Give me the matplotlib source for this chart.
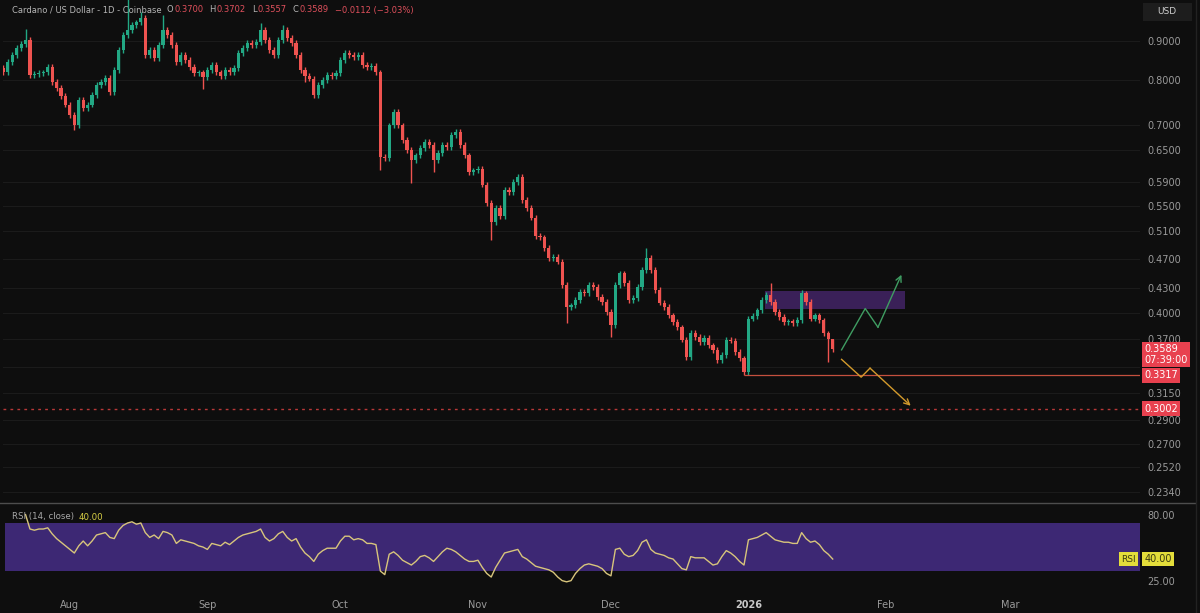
import pandas as pd
import numpy as np
import matplotlib
matplotlib.use('Agg')
import matplotlib.pyplot as plt
import matplotlib.dates as mdates
import matplotlib.patches as patches
from matplotlib.transforms import IdentityTransform

# ---- data (ADA/USD daily, Coinbase) ----
start = '2025-07-17'
first_open = 0.830
closes = [
    0.820, 0.845, 0.863, 0.881, 0.892, 0.903, 0.813, 0.816, 0.818, 0.820,
    0.833, 0.796, 0.782, 0.764, 0.744, 0.722, 0.700, 0.755, 0.737, 0.744,
    0.766, 0.789, 0.796, 0.806, 0.773, 0.825, 0.876, 0.916, 0.930, 0.944,
    0.952, 0.964, 0.863, 0.876, 0.855, 0.889, 0.930, 0.916, 0.889, 0.845,
    0.863, 0.850, 0.833, 0.818, 0.820, 0.808, 0.825, 0.838, 0.820, 0.811,
    0.825, 0.820, 0.830, 0.868, 0.881, 0.895, 0.889, 0.897, 0.930, 0.903,
    0.876, 0.863, 0.903, 0.930, 0.908, 0.895, 0.863, 0.825, 0.811, 0.804,
    0.766, 0.789, 0.801, 0.813, 0.811, 0.818, 0.850, 0.868, 0.863, 0.858,
    0.863, 0.838, 0.833, 0.835, 0.820, 0.637, 0.635, 0.700, 0.728, 0.700,
    0.670, 0.650, 0.631, 0.640, 0.654, 0.666, 0.660, 0.631, 0.644, 0.660,
    0.656, 0.680, 0.686, 0.660, 0.640, 0.609, 0.612, 0.614, 0.586, 0.555,
    0.524, 0.547, 0.534, 0.577, 0.573, 0.591, 0.600, 0.560, 0.547, 0.531,
    0.503, 0.501, 0.485, 0.471, 0.473, 0.466, 0.4345, 0.4069, 0.409, 0.4155,
    0.4255, 0.424, 0.4345, 0.432, 0.419, 0.413, 0.401, 0.3855, 0.4345, 0.450,
    0.437, 0.4155, 0.418, 0.432, 0.4544, 0.471, 0.4544, 0.428, 0.412, 0.407,
    0.397, 0.389, 0.383, 0.369, 0.350, 0.3765, 0.372, 0.3665, 0.371, 0.363,
    0.358, 0.347, 0.3525, 0.369, 0.368, 0.3557, 0.349, 0.335, 0.393, 0.396,
    0.403, 0.4155, 0.422, 0.413, 0.401, 0.395, 0.389, 0.390, 0.388, 0.3914,
    0.424, 0.413, 0.393, 0.397, 0.391, 0.376, 0.370, 0.3589,
]
# candles with a visibly long wick (index -> price)
high_wicks = {5: 0.933, 28: 1.025, 31: 0.980, 36: 0.972, 58: 0.950, 63: 0.944,
              102: 0.692, 116: 0.606, 145: 0.485, 173: 0.437, 180: 0.428, 187: 0.3702}
low_wicks = {16: 0.690, 45: 0.780, 68: 0.797, 85: 0.612, 92: 0.589, 97: 0.608,
             110: 0.497, 127: 0.388, 137: 0.372, 154: 0.347, 167: 0.3317,
             186: 0.345, 187: 0.3557}

rsi_first = 5  # RSI line starts on the 6th candle
rsi = [
    77, 65, 64, 65, 65, 66, 61, 57, 54, 51,
    48, 45, 51, 55, 51, 55, 60, 61, 62, 58,
    57, 64, 68, 70, 71, 69, 70, 62, 58, 60,
    57, 63, 62, 60, 53, 56, 55, 54, 53, 51,
    50, 48, 53, 52, 51, 54, 52, 55, 58, 60,
    61, 62, 63, 65, 58, 55, 57, 61, 63, 58,
    55, 57, 50, 45, 42, 38, 44, 47, 49, 49,
    49, 55, 59, 59, 56, 57, 56, 53, 53, 52,
    30, 27, 44, 46, 43, 39, 37, 35, 38, 42,
    43, 41, 38, 42, 46, 49, 48, 46, 43, 40,
    38, 38, 39, 33, 28, 25, 33, 39, 45, 46,
    47, 48, 42, 40, 37, 34, 33, 32, 31, 29,
    25, 22, 21, 22, 28, 32, 35, 36, 35, 34,
    32, 28, 26, 48, 49, 44, 42, 43, 47, 54,
    56, 48, 45, 44, 43, 41, 40, 36, 32, 31,
    42, 41, 41, 41, 38, 35, 36, 42, 47, 45,
    42, 38, 35, 56, 57, 58, 60, 62, 59, 56,
    55, 54, 54, 53, 53, 62, 57, 54, 55, 52,
    47, 44, 40,
]
rsi_band = (30, 70)
rsi_ticks = [80, 25]

price_ticks = [0.9, 0.8, 0.7, 0.65, 0.59, 0.55, 0.51, 0.47, 0.43, 0.40, 0.37,
               0.315, 0.29, 0.27, 0.252, 0.234]
hidden_grid = [0.34]  # gridline whose label sits under the price tags
support = 0.3317
support_from = '2025-12-31'
target = 0.3002
zone_lo, zone_hi = 0.404, 0.427
zone_dates = ['2026-01-04 20:00', '2026-02-05 06:00']
bull_dates = ['2026-01-22 00:00', '2026-01-27 08:00', '2026-01-30 05:00', '2026-02-04 12:00']
bull_prices = [0.358, 0.405, 0.383, 0.448]
bear_dates = ['2026-01-22 00:00', '2026-01-26 10:00', '2026-01-28 10:00', '2026-02-06 14:00']
bear_prices = [0.348, 0.330, 0.339, 0.303]

month_ticks = ['2025-08-01', '2025-09-01', '2025-10-01', '2025-11-01',
               '2025-12-01', '2026-01-01', '2026-02-01', '2026-03-01']
month_labels = ['Aug', 'Sep', 'Oct', 'Nov', 'Dec', '2026', 'Feb', 'Mar']

title = 'Cardano / US Dollar - 1D - Coinbase'
ohlc_text = [('O', '0.3700'), ('H', '0.3702'), ('L', '0.3557'), ('C', '0.3589')]
change_text = '\u22120.0112 (\u22123.03%)'
countdown = '07:39:00'

# ---- style ----
bg = '#0e0e0e'
grid_c = '#1b1b1b'
txt_c = '#9a9a9a'
up_c = '#22a884'
dn_c = '#ef5350'
tag_red = '#e8414f'
wick_pad = 0.008
W, H = 1200, 613

fig = plt.figure(figsize=(12, 6.13), dpi=100, facecolor=bg)
ax = fig.add_axes([3 / W, 1 - 500 / H, 1137 / W, 500 / H], facecolor=bg)
ax2 = fig.add_axes([3 / W, 1 - 590 / H, 1137 / W, 85 / H], facecolor=bg, sharex=ax)

dates = pd.date_range(start, periods=len(closes), freq='D')
xs = mdates.date2num(dates)
opens = [first_open] + closes[:-1]

tops, bots, his, los, cols = [], [], [], [], []
for i, (o, c) in enumerate(zip(opens, closes)):
    top, bot = max(o, c), min(o, c)
    tops.append(top)
    bots.append(bot)
    his.append(high_wicks.get(i, top * (1 + wick_pad)))
    los.append(low_wicks.get(i, bot * (1 - wick_pad)))
    cols.append(up_c if c >= o else dn_c)
tops = np.array(tops)
bots = np.array(bots)
heights = np.maximum(tops - bots, bots * 0.003)

ax.set_yscale('log')
ax.vlines(xs, los, his, colors=cols, linewidth=1.0, zorder=3)
ax.bar(xs, heights, bottom=bots, width=0.72, color=cols, linewidth=0, zorder=4)

# drawn zone and scenario arrows
z0, z1 = mdates.date2num(pd.to_datetime(zone_dates))
ax.add_patch(patches.Rectangle((z0, zone_lo), z1 - z0, zone_hi - zone_lo,
                               facecolor='#3a2058', edgecolor='none', zorder=2))

bx = mdates.date2num(pd.to_datetime(bull_dates))
ax.plot(bx[:-1], bull_prices[:-1], color='#3f9d62', lw=1.0, zorder=5)
ax.annotate('', xy=(bx[-1], bull_prices[-1]), xytext=(bx[-2], bull_prices[-2]),
            arrowprops=dict(arrowstyle='->', color='#3f9d62', lw=1.0,
                            shrinkA=0, shrinkB=0), zorder=5)
rx = mdates.date2num(pd.to_datetime(bear_dates))
ax.plot(rx[:-1], bear_prices[:-1], color='#d39a2c', lw=1.0, zorder=5)
ax.annotate('', xy=(rx[-1], bear_prices[-1]), xytext=(rx[-2], bear_prices[-2]),
            arrowprops=dict(arrowstyle='->', color='#d39a2c', lw=1.0,
                            shrinkA=0, shrinkB=0), zorder=5)

xmin = mdates.date2num(pd.Timestamp('2025-07-16 22:00'))
xmax = mdates.date2num(pd.Timestamp('2026-03-30 07:00'))
ax.hlines(support, mdates.date2num(pd.Timestamp(support_from)), xmax,
          color='#c4503e', lw=0.9, zorder=3)
ax.axhline(target, color='#b83838', lw=1.0, ls=(0, (2, 3)), zorder=3)
for g in hidden_grid:
    ax.axhline(g, color=grid_c, lw=0.8, zorder=0)

ax.set_xlim(xmin, xmax)
ax.set_ylim(0.2287, 1.0172)
ax.yaxis.tick_right()
ax.set_yticks(price_ticks)
ax.set_yticklabels(['%.4f' % p for p in price_ticks])
ax.yaxis.set_minor_locator(matplotlib.ticker.NullLocator())
ax.tick_params(axis='y', length=0, pad=5, labelsize=7, labelcolor=txt_c)
ax.tick_params(axis='x', length=0, labelbottom=False)
ax.grid(axis='y', color=grid_c, lw=0.8)
for s in ax.spines.values():
    s.set_visible(False)


def tag(axis, y, text, face, tc='white', dy=0):
    axis.annotate(text, xy=(1.0, y), xycoords=('axes fraction', 'data'),
                  xytext=(3, dy), textcoords='offset points', ha='left', va='center',
                  fontsize=7, color=tc, linespacing=1.1, annotation_clip=False,
                  bbox=dict(boxstyle='square,pad=0.25', fc=face, ec='none'), zorder=10)


tag(ax, closes[-1], '%.4f\n%s' % (closes[-1], countdown), tag_red, dy=-4)
tag(ax, support, '%.4f' % support, tag_red)
tag(ax, target, '%.4f' % target, tag_red)

# ---- RSI panel ----
ax2.axhspan(rsi_band[0], rsi_band[1], xmin=2 / 1137, xmax=1.0, color='#3d2874', lw=0, zorder=1)
ax2.plot(xs[rsi_first:], rsi, color='#d8c57c', lw=1.0, zorder=3)
ax2.set_ylim(14.2, 85)
ax2.yaxis.tick_right()
ax2.set_yticks(rsi_ticks)
ax2.set_yticklabels(['%.2f' % v for v in rsi_ticks])
ax2.tick_params(axis='y', length=0, pad=5, labelsize=7, labelcolor=txt_c)
for t in ax2.get_yticklabels():
    t.set_va('top')
ax2.set_xticks(mdates.date2num(pd.to_datetime(month_ticks)))
ax2.set_xticklabels(month_labels)
ax2.tick_params(axis='x', length=0, pad=7, labelsize=7, labelcolor=txt_c)
for t in ax2.get_xticklabels():
    if t.get_text() == '2026':
        t.set_fontweight('bold')
        t.set_color('#c8c8c8')
for s in ax2.spines.values():
    s.set_visible(False)
ax2.annotate('RSI', xy=(1.0, rsi[-1]), xycoords=('axes fraction', 'data'),
             xytext=(-3, 0), textcoords='offset points', ha='right', va='center',
             fontsize=6.5, color='#3a3a10', annotation_clip=False,
             bbox=dict(boxstyle='square,pad=0.25', fc='#e3dd3a', ec='none'), zorder=10)
tag(ax2, rsi[-1], '%.2f' % rsi[-1], '#e3dd3a', tc='#3a3a10')

# separator between panels and right frame
fig.add_artist(plt.Line2D([0, 1195 / W], [1 - 503 / H] * 2, color='#4d4d4d', lw=1.0))
fig.add_artist(plt.Line2D([1196 / W] * 2, [0, 1], color='#222222', lw=1.0))

# USD box
fig.add_artist(patches.Rectangle((1143 / W, 1 - 21 / H), 49 / W, 18 / H,
                                 transform=fig.transFigure, facecolor='#1d1d1d', edgecolor='none'))
fig.text(1167 / W, 1 - 12 / H, 'USD', color='#cfcfcf', fontsize=6.5, ha='center', va='center')

# header legends, pieces placed one after another in pixel coords
renderer = fig.canvas.get_renderer()


def put(x, y, s, c, size=6, gap=4):
    t = fig.text(x, H - y, s, color=c, fontsize=size, ha='left', va='center',
                 transform=IdentityTransform())
    return x + t.get_window_extent(renderer).width + gap


x0 = put(12, 10, title, '#b5b5b5', gap=5)
for k, v in ohlc_text:
    x0 = put(x0, 10, k, '#b5b5b5', gap=1)
    x0 = put(x0, 10, v, '#e0505c', gap=6)
put(x0, 10, change_text, '#e0505c')

x1 = put(12, 517, 'RSI (14, close)', '#a8a8a8', size=6.2, gap=5)
put(x1, 517, '%.2f' % rsi[-1], '#d8cf45', size=6.2)

fig.savefig('out.png', dpi=100, facecolor=bg)
